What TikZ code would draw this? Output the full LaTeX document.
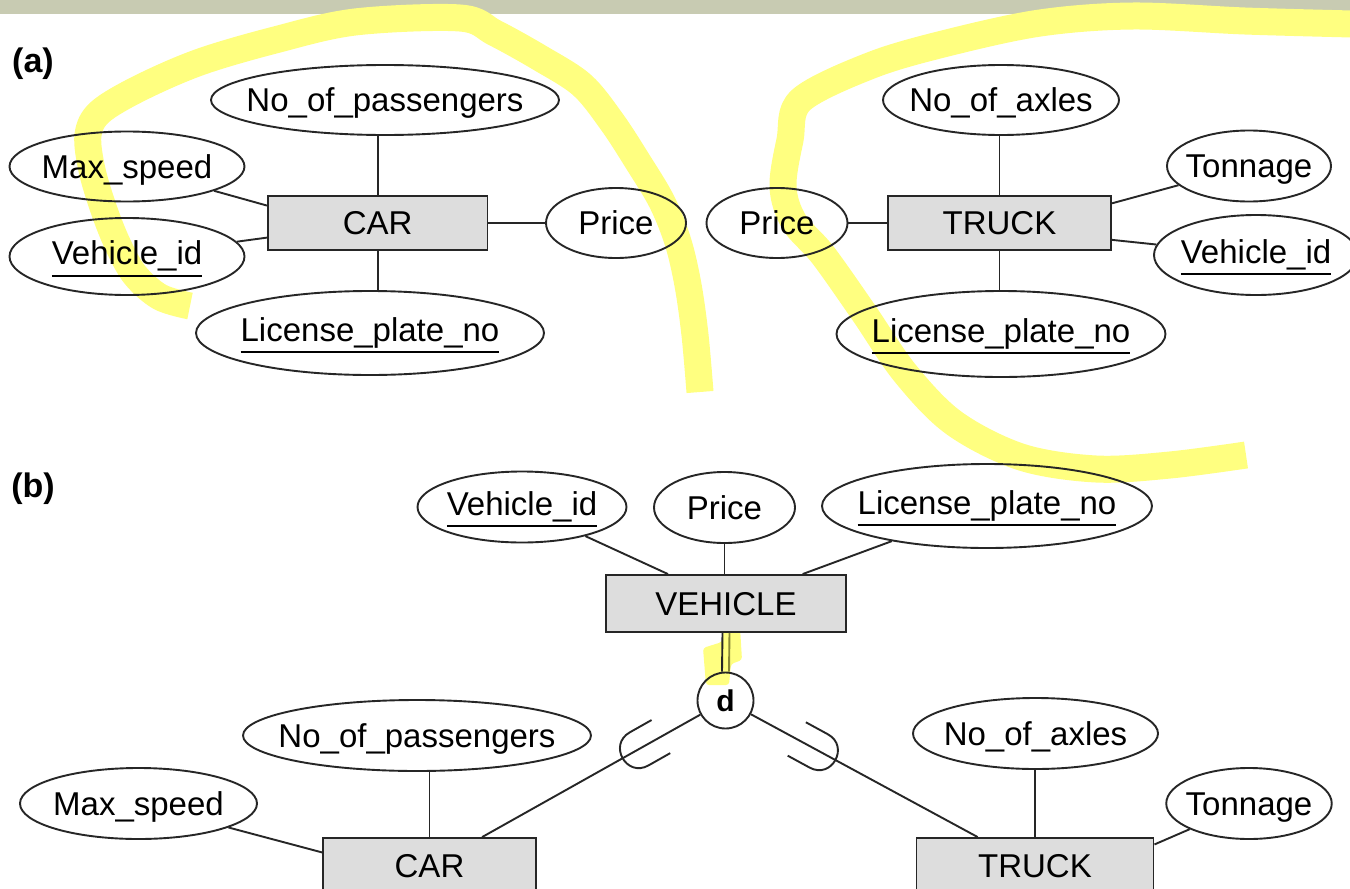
\documentclass[tikz,border=0pt]{standalone}
\usepackage{fontspec}
\setmainfont{Liberation Sans}
\usetikzlibrary{shapes.geometric,calc}
\definecolor{boxgray}{RGB}{221,221,221}
\definecolor{barcol}{RGB}{200,203,178}
\definecolor{hl}{RGB}{255,255,128}
\definecolor{hldark}{RGB}{135,135,55}
\newcommand{\ctext}[1]{\makebox[0pt]{\raisebox{-0.358em}{#1}}}
\newcommand{\ktext}[1]{\makebox[0pt]{\raisebox{-0.25em}{\setbox0\hbox{#1}\rlap{\rule[-0.36em]{\wd0}{1.7pt}}\box0}}}
\begin{document}
\begin{tikzpicture}[x=1pt,y=-1pt,
  conn/.style={line width=1.9pt, draw=black!85},
  attr/.style={ellipse, draw=black!85, line width=1.9pt, inner sep=0pt, text height=0pt, text depth=0pt, font=\fontsize{33}{40}\selectfont},
  entity/.style={rectangle, draw=black!85, fill=boxgray, line width=1.9pt, inner sep=0pt, text height=0pt, text depth=0pt, font=\fontsize{33}{40}\selectfont},
  hlstroke/.style={draw=hl, line width=27pt, line join=round, line cap=butt},
  partlabel/.style={font=\bfseries\fontsize{34}{40}\selectfont}]
\useasboundingbox (0,0) rectangle (1350,889);
\clip (0,0) rectangle (1350,889);
\fill[white] (0,0) rectangle (1350,889);
\fill[barcol] (0,0) rectangle (1350,13.5);

% highlighter strokes
\draw[hlstroke] plot[smooth, tension=0.55] coordinates {(190,306) (160,297) (135,275) (118,245) (104,210) (92,170) (88,135) (100,112) (140,88) (200,62) (275,40) (355,22) (460,18) (495,33) (540,58) (582,85) (612,122) (638,162) (662,202) (678,242) (688,285) (695,335) (700,392)};
\draw[hlstroke] plot[smooth, tension=0.55] coordinates {(1352,24) (1245,21) (1133,16) (1040,23) (947,43) (872,65) (801,100) (790,140) (783,187) (794,222) (823,255) (864,313) (905,373) (954,423) (1021,457) (1096,469) (1170,465) (1246,455)};
\fill[hl, rounded corners=3pt] (724,626) -- (740,627) -- (742,660) -- (731,664) -- (729,685) -- (706,685) -- (703,648) -- (722,642) -- cycle;

% part labels
\node[partlabel] (labA) at (33,64) {(a)};
\node[partlabel] (labB) at (33,489) {(b)};

% ---------- (a) CAR ----------
\node[attr, minimum width=348pt, minimum height=70pt] (npA) at (385,100) {\ctext{No\_of\_passengers}};
\node[attr, minimum width=235pt, minimum height=70pt] (msA) at (127,166.5) {\ctext{Max\_speed}};
\node[attr, minimum width=235pt, minimum height=77pt] (vidA) at (127,256.5) {\ktext{Vehicle\_id}};
\node[entity, minimum width=219.5pt, minimum height=54.3pt] (carA) at (377.7,223) {\ctext{CAR}};
\node[attr, minimum width=140pt, minimum height=70pt] (prA) at (616,223) {\ctext{Price}};
\node[attr, minimum width=348pt, minimum height=84pt] (lpA) at (370,333) {\ktext{License\_plate\_no}};

\draw[conn] (carA.north) -- (carA.north |- npA.south);
\draw[conn] (carA.south) -- (carA.south |- lpA.north);
\draw[conn] (msA) -- ($(carA.north west)!0.19!(carA.south west)$);
\draw[conn] (vidA) -- ($(carA.north west)!0.76!(carA.south west)$);
\draw[conn] (carA) -- (prA);

% ---------- (a) TRUCK ----------
\node[attr, minimum width=236pt, minimum height=70pt] (naA) at (1001,100) {\ctext{No\_of\_axles}};
\node[attr, minimum width=164pt, minimum height=71pt] (toA) at (1249,166) {\ctext{Tonnage}};
\node[attr, minimum width=141pt, minimum height=70pt] (prA2) at (777,223) {\ctext{Price}};
\node[entity, minimum width=223pt, minimum height=54.3pt] (trA) at (999.5,223) {\ctext{TRUCK}};
\node[attr, minimum width=204pt, minimum height=80pt] (vidA2) at (1256,255) {\ktext{Vehicle\_id}};
\node[attr, minimum width=329pt, minimum height=86pt] (lpA2) at (1001,334) {\ktext{License\_plate\_no}};

\draw[conn] (prA2) -- (trA);
\draw[conn] (trA.north) -- (trA.north |- naA.south);
\draw[conn] (trA.south) -- (trA.south |- lpA2.north);
\draw[conn] (toA) -- ($(trA.north east)!0.15!(trA.south east)$);
\draw[conn] (vidA2) -- ($(trA.north east)!0.8!(trA.south east)$);

% ---------- (b) ----------
\node[attr, minimum width=209pt, minimum height=71pt] (vidB) at (522,507) {\ktext{Vehicle\_id}};
\node[attr, minimum width=141pt, minimum height=71pt] (prB) at (724.5,507.5) {\ctext{Price}};
\node[attr, minimum width=330pt, minimum height=84pt] (lpB) at (987,506) {\ktext{License\_plate\_no}};
\node[entity, minimum width=240pt, minimum height=57pt] (vehB) at (726,603.5) {\ctext{VEHICLE}};
\node[circle, draw=black!85, line width=1.9pt, minimum size=56pt, inner sep=0pt, text height=0pt, text depth=0pt, font=\bfseries\fontsize{30}{36}\selectfont] (d) at (725.5,700.5) {\ctext{d}};

\node[attr, minimum width=348pt, minimum height=71pt] (npB) at (417,735.5) {\ctext{No\_of\_passengers}};
\node[attr, minimum width=237pt, minimum height=71pt] (msB) at (138.5,803.5) {\ctext{Max\_speed}};
\node[entity, minimum width=213pt, minimum height=55pt] (carB) at (429.5,865.5) {\ctext{CAR}};
\node[attr, minimum width=245pt, minimum height=71pt] (naB) at (1035.5,733.5) {\ctext{No\_of\_axles}};
\node[attr, minimum width=165.5pt, minimum height=71pt] (toB) at (1249,803.5) {\ctext{Tonnage}};
\node[entity, minimum width=237pt, minimum height=55pt] (trB) at (1035,865.5) {\ctext{TRUCK}};

\draw[conn] (vidB) -- ($(vehB.north west)!0.26!(vehB.north east)$);
\draw[conn] (prB.south) -- (prB.south |- vehB.north);
\draw[conn] (lpB) -- ($(vehB.north west)!0.817!(vehB.north east)$);
\draw[conn] ([xshift=-3.5pt]vehB.south) -- ([xshift=-3.5pt]d.north);
\draw[conn, draw=hldark] ([xshift=3.5pt]vehB.south) -- ([xshift=3.5pt]d.north);

\coordinate (carEnd) at ($(carB.north west)!0.745!(carB.north east)$);
\coordinate (truckEnd) at ($(trB.north west)!0.26!(trB.north east)$);
\draw[conn] (d) -- (carEnd);
\draw[conn] (d) -- (truckEnd);
\coordinate (uL) at ($(d.center)!118pt!(carEnd)$);
\coordinate (uR) at ($(d.center)!125pt!(truckEnd)$);
\draw[conn, shift={(uL)}, rotate=29.5] (44,19) -- (19,19) .. controls (-6.3,19) and (-6.3,-19) .. (19,-19) -- (44,-19);
\draw[conn, shift={(uR)}, rotate=151.4] (44,19) -- (19,19) .. controls (-6.3,19) and (-6.3,-19) .. (19,-19) -- (44,-19);

\draw[conn] (carB.north) -- (carB.north |- npB.south);
\draw[conn] (msB) -- ($(carB.north west)!0.27!(carB.south west)$);
\draw[conn] (trB.north) -- (trB.north |- naB.south);
\draw[conn] (toB) -- ($(trB.north east)!0.13!(trB.south east)$);
\end{tikzpicture}
\end{document}
